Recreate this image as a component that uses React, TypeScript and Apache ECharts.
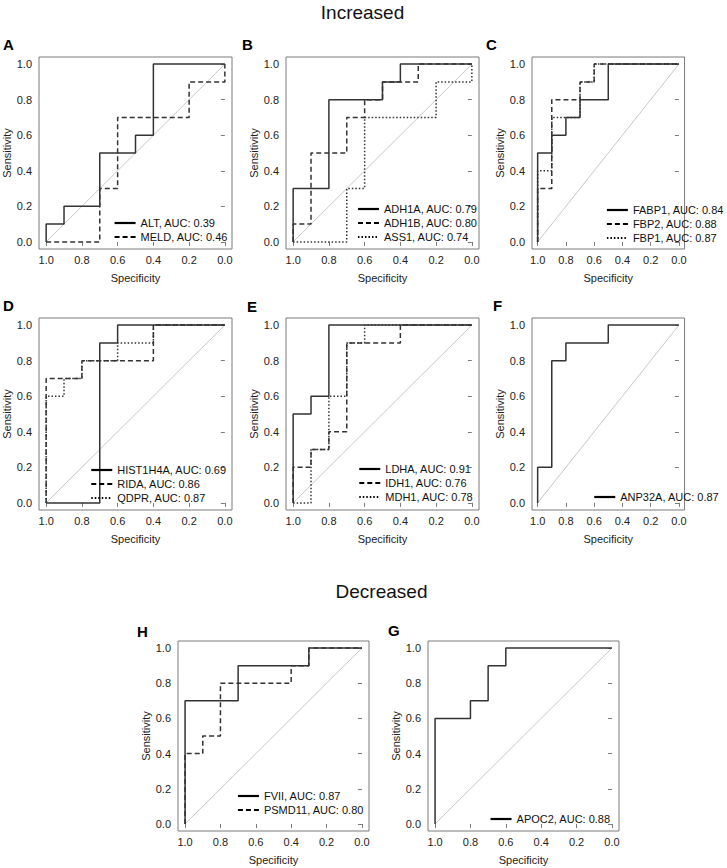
import React, { useEffect, useRef } from "react";
import * as echarts from "echarts";

// ---------- data: [specificity, sensitivity] vertices of each ROC step curve ----------
const TICKS = [0, 0.2, 0.4, 0.6, 0.8, 1.0];
const DIAG = [[1, 0], [0, 1]];

const ALT = [[1, 0], [1, 0.1], [0.9, 0.1], [0.9, 0.2], [0.7, 0.2], [0.7, 0.5], [0.5, 0.5], [0.5, 0.6], [0.4, 0.6], [0.4, 1], [0, 1]];
const MELD = [[1, 0], [0.7, 0], [0.7, 0.3], [0.6, 0.3], [0.6, 0.7], [0.2, 0.7], [0.2, 0.9], [0, 0.9], [0, 1]];

const ADH1A = [[1, 0], [1, 0.3], [0.8, 0.3], [0.8, 0.8], [0.5, 0.8], [0.5, 0.9], [0.4, 0.9], [0.4, 1], [0, 1]];
const ADH1B = [[1, 0], [1, 0.1], [0.9, 0.1], [0.9, 0.5], [0.7, 0.5], [0.7, 0.7], [0.6, 0.7], [0.6, 0.8], [0.5, 0.8], [0.5, 0.9], [0.3, 0.9], [0.3, 1], [0, 1]];
const ASS1 = [[1, 0], [0.7, 0], [0.7, 0.3], [0.6, 0.3], [0.6, 0.7], [0.2, 0.7], [0.2, 0.9], [0, 0.9], [0, 1]];

const FABP1 = [[1, 0], [1, 0.5], [0.9, 0.5], [0.9, 0.6], [0.8, 0.6], [0.8, 0.7], [0.7, 0.7], [0.7, 0.8], [0.5, 0.8], [0.5, 1], [0, 1]];
const FBP2 = [[1, 0], [1, 0.3], [0.9, 0.3], [0.9, 0.8], [0.7, 0.8], [0.7, 0.9], [0.6, 0.9], [0.6, 1], [0, 1]];
const FBP1 = [[1, 0], [1, 0.4], [0.9, 0.4], [0.9, 0.7], [0.8, 0.7], [0.7, 0.7], [0.7, 0.9], [0.6, 0.9], [0.6, 1], [0, 1]];

const HIST1H4A = [[1, 0], [0.7, 0], [0.7, 0.9], [0.6, 0.9], [0.6, 1], [0, 1]];
const RIDA = [[1, 0], [1, 0.7], [0.8, 0.7], [0.8, 0.8], [0.4, 0.8], [0.4, 1], [0, 1]];
const QDPR = [[1, 0], [1, 0.6], [0.9, 0.6], [0.9, 0.7], [0.8, 0.7], [0.8, 0.8], [0.6, 0.8], [0.6, 0.9], [0.4, 0.9], [0.4, 1], [0, 1]];

const LDHA = [[1, 0], [1, 0.5], [0.9, 0.5], [0.9, 0.6], [0.8, 0.6], [0.8, 1], [0, 1]];
const IDH1 = [[1, 0], [1, 0.2], [0.9, 0.2], [0.9, 0.3], [0.8, 0.3], [0.8, 0.4], [0.7, 0.4], [0.7, 0.9], [0.4, 0.9], [0.4, 1], [0, 1]];
const MDH1 = [[1, 0], [0.9, 0], [0.9, 0.3], [0.8, 0.3], [0.8, 0.6], [0.7, 0.6], [0.7, 0.9], [0.6, 0.9], [0.6, 1], [0, 1]];

const ANP32A = [[1, 0], [1, 0.2], [0.9, 0.2], [0.9, 0.8], [0.8, 0.8], [0.8, 0.9], [0.5, 0.9], [0.5, 1], [0, 1]];

const FVII = [[1, 0], [1, 0.7], [0.7, 0.7], [0.7, 0.9], [0.3, 0.9], [0.3, 1], [0, 1]];
const PSMD11 = [[1, 0], [1, 0.4], [0.9, 0.4], [0.9, 0.5], [0.8, 0.5], [0.8, 0.8], [0.4, 0.8], [0.4, 0.9], [0.3, 0.9], [0.3, 1], [0, 1]];

const APOC2 = [[1, 0], [1, 0.6], [0.8, 0.6], [0.8, 0.7], [0.7, 0.7], [0.7, 0.9], [0.6, 0.9], [0.6, 1], [0, 1]];

const TITLES = ["Increased", "Decreased"];

// ---------- panel layout ----------
const W = 727;
const H = 868;
const FONT = "'Liberation Sans', Arial, Helvetica, sans-serif";
const SOLID = "solid";
const DASH = [5, 3];
const DOT = [1.5, 2];

type Curve = { name: string; data: number[][]; type: any };
type Panel = {
  letter: string; lx: number; ly: number;
  left: number; top: number; width: number; height: number;
  legendRight: number; legendCy: number;
  curves: Curve[];
};

const PANELS: Panel[] = [
  { letter: "A", lx: 3, ly: 44, left: 39, top: 57, width: 193, height: 192, legendRight: 228, legendCy: 237,
    curves: [{ name: "ALT, AUC: 0.39", data: ALT, type: SOLID }, { name: "MELD, AUC: 0.46", data: MELD, type: DASH }] },
  { letter: "B", lx: 242, ly: 44, left: 286, top: 57, width: 193, height: 192, legendRight: 477.5, legendCy: 237,
    curves: [{ name: "ADH1A, AUC: 0.79", data: ADH1A, type: SOLID }, { name: "ADH1B, AUC: 0.80", data: ADH1B, type: DASH }, { name: "ASS1, AUC: 0.74", data: ASS1, type: DOT }] },
  { letter: "C", lx: 486, ly: 44, left: 532, top: 57, width: 193, height: 192, legendRight: 724, legendCy: 238,
    curves: [{ name: "FABP1, AUC: 0.84", data: FABP1, type: SOLID }, { name: "FBP2, AUC: 0.88", data: FBP2, type: DASH }, { name: "FBP1, AUC: 0.87", data: FBP1, type: DOT }] },
  { letter: "D", lx: 3, ly: 305.5, left: 39, top: 318, width: 193, height: 192, legendRight: 226.7, legendCy: 498,
    curves: [{ name: "HIST1H4A, AUC: 0.69", data: HIST1H4A, type: SOLID }, { name: "RIDA, AUC: 0.86", data: RIDA, type: DASH }, { name: "QDPR, AUC: 0.87", data: QDPR, type: DOT }] },
  { letter: "E", lx: 247, ly: 306, left: 286, top: 318, width: 193, height: 192, legendRight: 473.3, legendCy: 497,
    curves: [{ name: "LDHA, AUC: 0.91", data: LDHA, type: SOLID }, { name: "IDH1, AUC: 0.76", data: IDH1, type: DASH }, { name: "MDH1, AUC: 0.78", data: MDH1, type: DOT }] },
  { letter: "F", lx: 493, ly: 305.5, left: 532, top: 318, width: 193, height: 192, legendRight: 719.3, legendCy: 497,
    curves: [{ name: "ANP32A, AUC: 0.87", data: ANP32A, type: SOLID }] },
  { letter: "H", lx: 137, ly: 631.5, left: 178, top: 641, width: 191, height: 190, legendRight: 364, legendCy: 810,
    curves: [{ name: "FVII, AUC: 0.87", data: FVII, type: SOLID }, { name: "PSMD11, AUC: 0.80", data: PSMD11, type: DASH }] },
  { letter: "G", lx: 388, ly: 630.5, left: 428, top: 641, width: 191, height: 190, legendRight: 610.7, legendCy: 819,
    curves: [{ name: "APOC2, AUC: 0.88", data: APOC2, type: SOLID }] },
];

const TITLE_POS = [
  { x: 362.5, y: 12 },
  { x: 381.5, y: 591.5 },
];

function buildOption() {
  const grid: any[] = [];
  const xAxis: any[] = [];
  const yAxis: any[] = [];
  const series: any[] = [];
  const legend: any[] = [];
  const graphic: any[] = [];

  const fmt = (v: number) => v.toFixed(1);

  PANELS.forEach((p, i) => {
    grid.push({
      left: p.left, top: p.top, width: p.width, height: p.height,
      show: true, borderColor: "#7a7a7a", borderWidth: 1, backgroundColor: "transparent",
      containLabel: false,
    });
    const common = {
      gridIndex: i, type: "value", min: -0.04, max: 1.04,
      axisLine: { show: false },
      splitLine: { show: false },
      axisTick: { show: true, customValues: TICKS, length: 4, lineStyle: { color: "#7a7a7a", width: 1 } },
      axisLabel: { customValues: TICKS, formatter: fmt, fontSize: 11, color: "#222", fontFamily: FONT },
      nameLocation: "middle",
      nameTextStyle: { fontSize: 11, color: "#222", fontFamily: FONT },
    };
    xAxis.push({ ...common, inverse: true, name: "Specificity", nameGap: 23,
      axisLabel: { ...common.axisLabel, margin: 5 } });
    yAxis.push({ ...common, name: "Sensitivity", nameGap: 25,
      axisLabel: { ...common.axisLabel, margin: 7 } });

    series.push({
      type: "line", xAxisIndex: i, yAxisIndex: i, data: DIAG, symbol: "none", silent: true,
      lineStyle: { color: "#c8c8c8", width: 1 }, z: 2,
    });
    p.curves.forEach((c) => {
      series.push({
        type: "line", name: c.name, xAxisIndex: i, yAxisIndex: i, data: c.data,
        symbol: "none", silent: true, z: 3,
        lineStyle: { color: "#333", width: 1.5, type: c.type },
        itemStyle: { color: "#333" },
      });
    });

    legend.push({
      orient: "vertical", align: "left",
      right: W - p.legendRight, bottom: H - (p.legendCy + 7),
      data: p.curves.map((c) => c.name),
      itemWidth: 21, itemHeight: 14, itemGap: 0, padding: 0,
      selectedMode: false,
      itemStyle: { color: "transparent", borderWidth: 0, opacity: 0 },
      lineStyle: { width: 2.2, color: "#000" },
      textStyle: { fontSize: 11, color: "#111", fontFamily: FONT, lineHeight: 14 },
    });

    graphic.push({
      type: "text", x: p.lx, y: p.ly,
      style: { text: p.letter, fontSize: 15, fontWeight: "bold", fontFamily: FONT, fill: "#000", align: "left", verticalAlign: "middle" },
    });
  });

  TITLES.forEach((t, k) => {
    graphic.push({
      type: "text", x: TITLE_POS[k].x, y: TITLE_POS[k].y,
      style: { text: t, fontSize: 19, fontFamily: FONT, fill: "#111", align: "center", verticalAlign: "middle" },
    });
  });

  return {
    animation: false,
    backgroundColor: "#fff",
    grid, xAxis, yAxis, series, legend, graphic,
  };
}

export default function App() {
  const ref = useRef<HTMLDivElement>(null);
  useEffect(() => {
    if (!ref.current) return;
    const chart = echarts.init(ref.current, null, { renderer: "svg" });
    chart.setOption(buildOption() as any);
    return () => chart.dispose();
  }, []);
  return (
    <div
      ref={ref}
      style={{ position: "absolute", left: 0, top: 0, width: W, height: H, background: "#fff" }}
    />
  );
}
